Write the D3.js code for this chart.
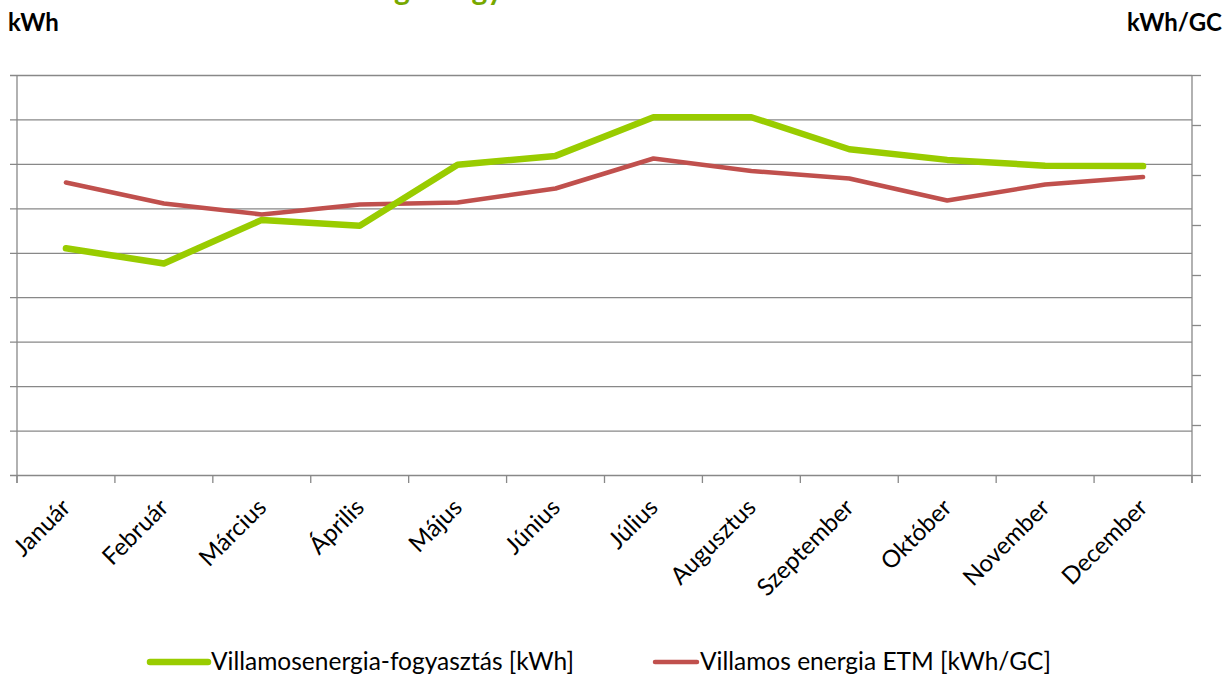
<!DOCTYPE html>
<html>
<head>
<meta charset="utf-8">
<script src="https://cdn.jsdelivr.net/npm/d3@7"></script>
<style>
  body { margin: 0; background: #fff; }
  svg { display: block; font-family: Lato, "Open Sans", sans-serif; }
</style>
</head>
<body>
<svg width="1231" height="677"></svg>
<script>
// ---- data ----
const months = ["Január", "Február", "Március", "Április", "Május", "Június",
                "Július", "Augusztus", "Szeptember", "Október", "November", "December"];
const consumption = [51.0, 47.6, 57.4, 56.1, 69.8, 71.8, 80.5, 80.5, 73.3, 70.9, 69.6, 69.5];   // kWh (left axis)
const etm = [5.85, 5.43, 5.21, 5.41, 5.45, 5.73, 6.33, 6.08, 5.93, 5.49, 5.81, 5.96];           // kWh/GC (right axis)
const leftTicks = [0, 10, 20, 30, 40, 50, 60, 70, 80, 90];
const rightTicks = [0, 1, 2, 3, 4, 5, 6, 7, 8];
const seriesNames = ["Villamosenergia-fogyasztás [kWh]", "Villamos energia ETM [kWh/GC]"];
const titleText = "Villamosenergia-fogyasztás és ETM havi alakulása";

const GREEN = "#99cc00", RED = "#c0504d", GRID = "#888888";

const svg = d3.select("svg");
const margin = {left: 17, right: 39, top: 75, bottom: 202};
const W = 1231 - margin.left - margin.right;
const H = 677 - margin.top - margin.bottom;

const g = svg.append("g").attr("transform", `translate(${margin.left},${margin.top})`);

const x = d3.scaleBand().domain(months).range([0, W]).padding(0);
const yL = d3.scaleLinear().domain([0, 90]).range([H, 0]);
const yR = d3.scaleLinear().domain([0, 8]).range([H, 0]);

// ===== gridlines + left axis ticks =====
g.append("g")
  .call(d3.axisLeft(yL).tickValues(leftTicks).tickFormat("").tickSizeOuter(0).tickSizeInner(7))
  .call(a => a.select(".domain").remove())
  .call(a => a.selectAll("line").attr("x2", -7).attr("x1", W).attr("stroke", GRID).attr("stroke-width", 1.3));

// right axis ticks
g.append("g")
  .attr("transform", `translate(${W},0)`)
  .call(d3.axisRight(yR).tickValues(rightTicks).tickFormat("").tickSizeOuter(0).tickSizeInner(9))
  .call(a => a.select(".domain").remove())
  .call(a => a.selectAll("line").attr("stroke", GRID).attr("stroke-width", 1.3));

// vertical axis lines
g.append("line").attr("x1", 0).attr("x2", 0).attr("y1", 0).attr("y2", H + 8)
  .attr("stroke", GRID).attr("stroke-width", 1.3);
g.append("line").attr("x1", W).attr("x2", W).attr("y1", 0).attr("y2", H + 8)
  .attr("stroke", GRID).attr("stroke-width", 1.3);

// category ticks between months
const edges = months.map(m => x(m)).concat([W]);
g.append("g").selectAll("line")
  .data(edges)
  .enter().append("line")
  .attr("x1", d => d).attr("x2", d => d)
  .attr("y1", H).attr("y2", H + 8)
  .attr("stroke", GRID).attr("stroke-width", 1.3);

// month labels, rotated
g.append("g").selectAll("text")
  .data(months)
  .enter().append("text")
  .attr("transform", d => `translate(${x(d) + x.bandwidth() / 2 + 6},${H + 34}) rotate(-45)`)
  .attr("text-anchor", "end")
  .style("font-size", "24px")
  .style("fill", "#000")
  .text(d => d);

// ===== lines =====
const lineL = d3.line().x((d, i) => x(months[i]) + x.bandwidth() / 2).y(d => yL(d));
const lineR = d3.line().x((d, i) => x(months[i]) + x.bandwidth() / 2).y(d => yR(d));

g.append("path").datum(etm)
  .attr("d", lineR).attr("fill", "none")
  .attr("stroke", RED).attr("stroke-width", 4.5)
  .attr("stroke-linecap", "round").attr("stroke-linejoin", "round");

g.append("path").datum(consumption)
  .attr("d", lineL).attr("fill", "none")
  .attr("stroke", GREEN).attr("stroke-width", 6.5)
  .attr("stroke-linecap", "round").attr("stroke-linejoin", "round");

// ===== titles =====
// title sits mostly above the top edge, only the descenders show
svg.append("text")
  .attr("x", 220).attr("y", 0)
  .style("font-size", "30px").style("font-weight", "bold")
  .style("fill", "#77a800")
  .text(titleText);

svg.append("text")
  .attr("x", 8).attr("y", 31)
  .style("font-size", "24px").style("font-weight", "bold")
  .text("kWh");

svg.append("text")
  .attr("x", 1222).attr("y", 31)
  .attr("text-anchor", "end")
  .style("font-size", "24px").style("font-weight", "bold")
  .text("kWh/GC");

// ===== legend =====
const legend = svg.append("g").attr("transform", "translate(0,662)");
const legendItems = [
  {name: seriesNames[0], color: GREEN, x0: 150, x1: 208, w: 6.5},
  {name: seriesNames[1], color: RED, x0: 655, x1: 697, w: 4.5}
];
legendItems.forEach(d => {
  legend.append("line")
    .attr("x1", d.x0).attr("x2", d.x1).attr("y1", 0).attr("y2", 0)
    .attr("stroke", d.color).attr("stroke-width", d.w).attr("stroke-linecap", "round");
  legend.append("text")
    .attr("x", d.x1 + 3).attr("y", 8)
    .style("font-size", "24.5px")
    .text(d.name);
});
</script>
</body>
</html>
